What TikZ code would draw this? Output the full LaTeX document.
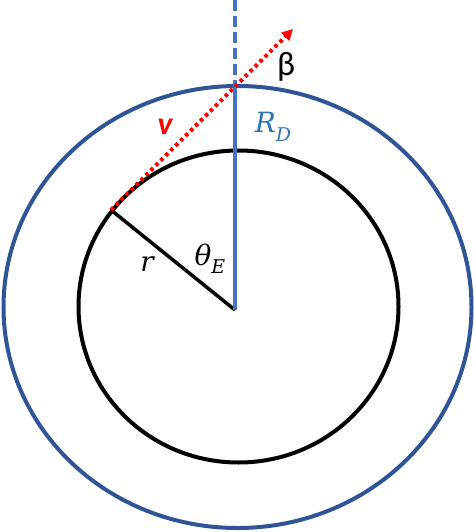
\documentclass[tikz,border=0pt]{standalone}
\usepackage{fontspec}
\setmainfont{Carlito}
\newfontfamily\labfont{DejaVu Serif}
\usepackage{tikz}
\usetikzlibrary{arrows.meta, positioning}

\definecolor{ringblue}{RGB}{47,85,151}
\definecolor{axisblue}{RGB}{68,114,196}
\definecolor{labelblue}{RGB}{46,117,182}

\newcommand\labsub[2]{#1\raisebox{-0.3em}{\fontsize{19}{21}\selectfont #2}}

\begin{document}
\begin{tikzpicture}[x=1bp,y=-1bp, every node/.style={font=\fontsize{24}{28}\selectfont, inner sep=0pt},
    ring/.style={line width=4bp},
    axis/.style={axisblue, line width=3.5bp},
    mathlab/.style={font=\fontsize{28}{30}\selectfont\labfont\itshape}]
    \useasboundingbox (0,0) rectangle (474,532);

    \draw[ring, ringblue] (237.5,307) ellipse [x radius=234, y radius=221];
    \draw[ring, black] (238.5,306.5) ellipse [x radius=160, y radius=156];

    \coordinate (O) at (235,310);
    \coordinate (P) at (111,210);
    \coordinate (Q) at (235,86);
    \coordinate (T) at (235,0);
    \coordinate (A) at (293,29);

    \draw[line width=3.5bp] (P) -- (O);
    \draw[axis] (O) -- (Q);
    \draw[axis, dash pattern=on 11bp off 5bp] (T) -- (Q);

    \draw[red, line width=4bp, dash pattern=on 3.5bp off 3.5bp, -{Triangle[length=11bp,width=11bp]}]
    (P) -- (A);

    \node[red, font=\fontsize{32}{34}\selectfont\bfseries\itshape] (v) at (165,127) {v};
    \node[mathlab, labelblue] (RD) at (273,127) {\labsub{R}{D}};
    \node[font=\fontsize{34}{36}\selectfont] (beta) at (286,67) {β};
    \node[mathlab] (thetaE) at (210,259) {\labsub{θ}{E}};
    \node[mathlab] (r) at (147,264) {r};

\end{tikzpicture}
\end{document}
